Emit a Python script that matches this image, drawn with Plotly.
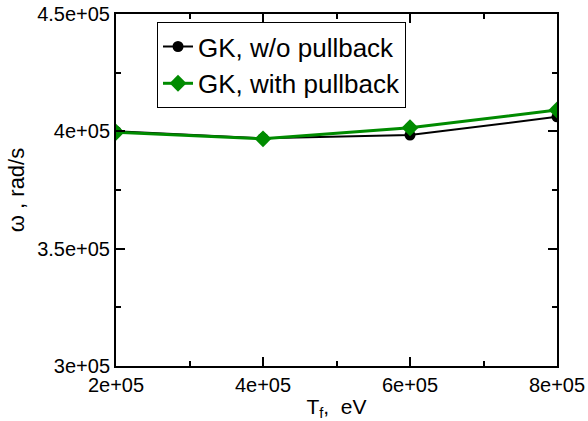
import plotly.graph_objects as go

temps = [2e5, 4e5, 6e5, 8e5]
omega_no_pullback = [400000, 397000, 398400, 406200]
omega_pullback = [399600, 396800, 401500, 409100]

x_tickvals = [2e5, 4e5, 6e5, 8e5]
x_ticktext = ["2e+05", "4e+05", "6e+05", "8e+05"]
y_tickvals = [3e5, 3.5e5, 4e5, 4.5e5]
y_ticktext = ["3e+05", "3.5e+05", "4e+05", "4.5e+05"]

FONT = "Liberation Sans, Arial, sans-serif"

fig = go.Figure()
fig.add_trace(go.Scatter(
    x=temps, y=omega_no_pullback, mode="lines+markers",
    name="GK, w/o pullback",
    line=dict(color="black", width=2),
    marker=dict(symbol="circle", size=11, color="black"),
))
fig.add_trace(go.Scatter(
    x=temps, y=omega_pullback, mode="lines+markers",
    name="GK, with pullback",
    line=dict(color="#008b00", width=3),
    marker=dict(symbol="diamond", size=13, color="#008b00"),
))

axis_common = dict(
    showline=True, linecolor="black", linewidth=2, mirror="allticks",
    ticks="inside", ticklen=9, tickwidth=1.5, tickcolor="black",
    showgrid=False, zeroline=False, automargin=False,
    tickfont=dict(family=FONT, size=20, color="black"),
)
minor_x = dict(ticks="inside", ticklen=5, tickwidth=1.5, tickcolor="black", dtick=1e5, tick0=2e5)
minor_y = dict(ticks="inside", ticklen=5, tickwidth=1.5, tickcolor="black", dtick=2.5e4, tick0=3e5)

fig.update_layout(
    width=588, height=421,
    margin=dict(l=116, r=31, t=14, b=55),
    paper_bgcolor="white", plot_bgcolor="white",
    font=dict(family=FONT, color="black"),
    showlegend=True,
    legend=dict(
        x=0.093, y=0.977, xanchor="left", yanchor="top",
        bordercolor="black", borderwidth=1, bgcolor="white",
        font=dict(family=FONT, size=26, color="black"),
        itemwidth=30, tracegroupgap=0,
    ),
    xaxis=dict(
        range=[2e5, 8e5], tickvals=x_tickvals, ticktext=x_ticktext,
        minor=minor_x,
        title=dict(text="T<sub>f</sub>,\u00a0 eV", font=dict(family=FONT, size=21), standoff=4),
        **axis_common,
    ),
    yaxis=dict(
        range=[3e5, 4.5e5], tickvals=y_tickvals, ticktext=y_ticktext,
        minor=minor_y,
        title=dict(text="ω , rad/s", font=dict(family=FONT, size=22), standoff=6),
        **axis_common,
    ),
    xaxis2=dict(
        overlaying="x", matches="x", side="top", anchor="y",
        range=[2e5, 8e5], tickvals=x_tickvals, showticklabels=False,
        ticks="inside", ticklen=9, tickwidth=1.5, tickcolor="black",
        minor=minor_x, showgrid=False, zeroline=False, showline=False,
    ),
    yaxis2=dict(
        overlaying="y", matches="y", side="right", anchor="x",
        range=[3e5, 4.5e5], tickvals=y_tickvals, showticklabels=False,
        ticks="inside", ticklen=9, tickwidth=1.5, tickcolor="black",
        minor=minor_y, showgrid=False, zeroline=False, showline=False,
    ),
)

fig.write_html("out.html")
